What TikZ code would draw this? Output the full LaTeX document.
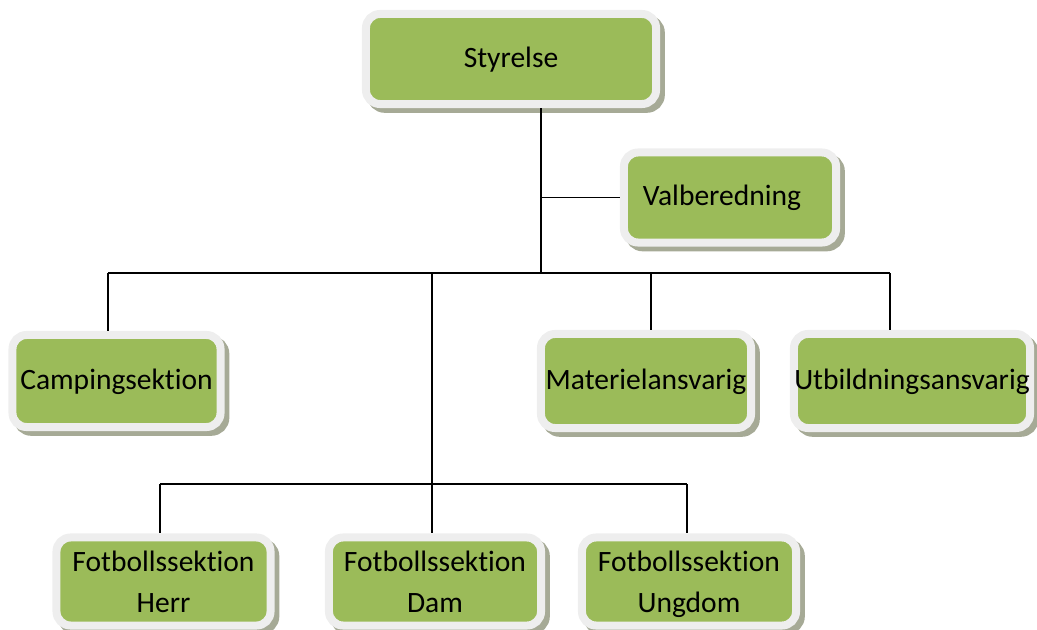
\documentclass[tikz,border=0pt]{standalone}
\usepackage{fontspec}
\setmainfont{Carlito}[Ligatures=NoCommon]
\usetikzlibrary{positioning}
\definecolor{boxgreen}{HTML}{9BBB59}
\definecolor{boxrim}{HTML}{EEEEEE}
\definecolor{boxshade}{HTML}{A6AA96}
\tikzset{
	%Define style for the organisation boxes
	enhet/.style={
		rectangle,
		rounded corners=0.35cm,
		draw=boxrim, line width=0.2cm,
		fill=boxgreen,
		preaction={draw=boxshade, fill=boxshade,
			transform canvas={shift={(0.12cm,-0.12cm)}}},
		inner sep=0pt,
		minimum height=2.25cm,
		align=center,
		execute at begin node={\strut},
		execute at end node={\strut},
		font=\fontsize{21}{29}\selectfont},
	%Boxes with two lines of text
	tvarad/.style={
		execute at begin node={},
		execute at end node={},
		text depth=0pt,
		minimum width=5.35cm,
		minimum height=2.2cm},
	% Define connector style
	linje/.style={
		draw=black,
		line width=1.4pt}
}
\begin{document}
\begin{tikzpicture}[x=0.025cm, y=-0.025cm]
	\useasboundingbox (0,0) rectangle (1037,630);

	\node[enhet, minimum width=7.25cm] (styrelse) at (511,59) {Styrelse};
	\node[enhet, minimum width=5.3cm] (valberedning) at (730,197.5) {Valberedning\hspace{0.4cm}};

	\node[enhet, minimum width=5.2cm, minimum height=2.3cm] (camping) at (116.5,381) {Campingsektion};
	\node[enhet, minimum width=5.25cm, minimum height=2.35cm] (materiel) at (646,381) {Materielansvarig};
	\node[enhet, minimum width=5.9cm, minimum height=2.35cm] (utbildning) at (912,381) {Utbildningsansvarig};

	\node[enhet, tvarad] (herr) at (163.5,581.5) {Fotbollssektion\\Herr};
	\node[enhet, tvarad, minimum width=5.3cm] (dam) at (435,581.5) {Fotbollssektion\\Dam};
	\node[enhet, tvarad] (ungdom) at (689,581.5) {Fotbollssektion\\Ungdom};

	% branch points
	\coordinate (hub) at (541,273);
	\coordinate (split) at (432,484);
	\coordinate (d-camping) at (108,273);
	\coordinate (d-materiel) at (651,273);
	\coordinate (d-utbildning) at (890,273);
	\coordinate (d-herr) at (160,484);
	\coordinate (d-dam) at (432,484);
	\coordinate (d-ungdom) at (687,484);

	\draw[linje] (styrelse.south -| hub) -- (hub);
	\draw[linje] (hub |- valberedning.west) -- (valberedning.west);
	\draw[linje] (d-camping) -- (d-utbildning);
	\draw[linje] (split |- hub) -- (split);
	\draw[linje] (d-herr) -- (d-ungdom);
	\foreach \n in {camping,materiel,utbildning,herr,dam,ungdom}
		\draw[linje] (d-\n) -- (d-\n |- \n.north);

\end{tikzpicture}
\end{document}
